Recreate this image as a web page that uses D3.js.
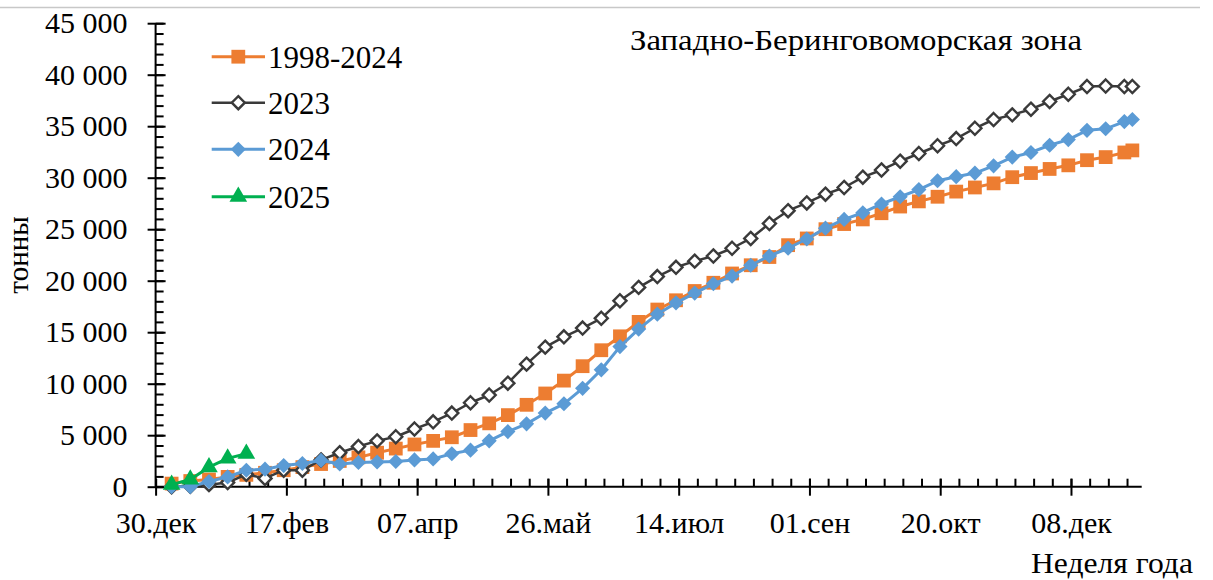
<!DOCTYPE html>
<html>
<head>
<meta charset="utf-8">
<script src="https://cdn.jsdelivr.net/npm/d3@7"></script>
<style>
	body{margin:0;background:#fff;}
	svg text{font-family:"Liberation Serif","DejaVu Serif",serif !important;}
</style>
</head>
<body>
<div id="wrap"></div>
<script>
//chart data, one value per week (last point = end of year)
var seriesNames = ["1998-2024", "2023", "2024", "2025"];
var tickLabels = ["30.дек", "17.фев", "07.апр", "26.май", "14.июл", "01.сен", "20.окт", "08.дек"];
var tickDays = [0, 49, 98, 147, 196, 245, 294, 343];
var pointDays = [6, 13, 20, 27, 34, 41, 48, 55, 62, 69, 76, 83, 90, 97, 104, 111, 118, 125, 132, 139,
	146, 153, 160, 167, 174, 181, 188, 195, 202, 209, 216, 223, 230, 237, 244, 251, 258, 265, 272, 279,
	286, 293, 300, 307, 314, 321, 328, 335, 342, 349, 356, 363, 366];

var avg9824 = [300, 550, 700, 950, 1150, 1350, 1600, 1900, 2200, 2500, 2850, 3300, 3700, 4100, 4450, 4800,
	5500, 6150, 6950, 7950, 9050, 10300, 11700, 13250, 14600, 16000, 17200, 18100, 19000, 19800, 20700,
	21500, 22300, 23450, 24100, 25000, 25500, 25950, 26550, 27200, 27700, 28150, 28650, 29050, 29450,
	30050, 30450, 30850, 31200, 31700, 32000, 32450, 32650];
var y2023 = [0, 50, 200, 400, 1200, 800, 1600, 1600, 2600, 3300, 3900, 4450, 4850, 5600, 6300, 7150,
	8150, 8900, 10050, 11900, 13550, 14550, 15400, 16350, 18050, 19350, 20400, 21300, 21900, 22400, 23150,
	24100, 25550, 26800, 27550, 28400, 29050, 30050, 30750, 31600, 32350, 33100, 33800, 34800, 35650,
	36100, 36650, 37400, 38100, 38850, 38900, 38850, 38850];
var y2024 = [0, 0, 500, 950, 1600, 1700, 2050, 2250, 2550, 2200, 2350, 2400, 2450, 2600, 2700, 3200,
	3550, 4450, 5350, 6100, 7150, 8050, 9550, 11350, 13600, 15300, 16750, 17850, 18800, 19700, 20450,
	21500, 22400, 23150, 24050, 25100, 25950, 26600, 27450, 28150, 28850, 29700, 30100, 30450, 31150,
	32000, 32450, 33150, 33700, 34600, 34750, 35450, 35650];
var y2025 = [200, 700, 1900, 2750, 3200];

(function(){

	var W = 1213, H = 580;
	var dom = {};

	dom.svg = d3.select("#wrap").append("svg").attr("width", W).attr("height", H);

	//frame line at the top
	dom.svg.append("line").attr("x1", 0).attr("x2", 1200).attr("y1", 7.5).attr("y2", 7.5)
		.attr("stroke", "#c8c8c8").attr("stroke-width", 1.5);

	var x = d3.scaleLinear().domain([0, 369.5]).range([155.6, 1141.7]);
	var y = d3.scaleLinear().domain([0, 45000]).range([486.7, 23.2]);

	var ru = d3.formatLocale({decimal: ",", thousands: "\u00a0", grouping: [3], currency: ["", ""]});
	var fmt = ru.format(",d");

	//y axis: minor ticks inward, major ticks crossing
	var minorY = d3.range(0, 45001, 1000);
	dom.svg.append("g").attr("transform", "translate(" + x(0) + ",0)")
		.call(d3.axisRight(y).tickValues(minorY).tickSize(8).tickFormat(""))
		.call(function(g){ g.select(".domain").remove(); });

	var gy = dom.svg.append("g").attr("transform", "translate(" + x(0) + ",0)")
		.call(d3.axisLeft(y).tickValues(d3.range(0, 45001, 5000)).tickSize(8).tickPadding(20).tickFormat(fmt));
	gy.attr("font-family", null);
	gy.select(".domain").attr("d", "M0," + y(45000) + "V" + y(0));
	gy.selectAll(".tick line").attr("x1", 10);
	gy.selectAll(".tick text").attr("font-size", 30).attr("fill", "#000");

	//x axis: minor weekly ticks upward, major ticks crossing
	var minorX = d3.range(0, 365, 7);
	dom.svg.append("g").attr("transform", "translate(0," + y(0) + ")")
		.call(d3.axisTop(x).tickValues(minorX).tickSize(8).tickFormat(""))
		.call(function(g){ g.select(".domain").remove(); });

	var gx = dom.svg.append("g").attr("transform", "translate(0," + y(0) + ")")
		.call(d3.axisBottom(x).tickValues(tickDays).tickSize(9).tickPadding(16)
			.tickFormat(function(d, i){ return tickLabels[i]; }));
	gx.attr("font-family", null);
	gx.select(".domain").attr("d", "M" + x(0) + ",0H" + x(369.5));
	gx.selectAll(".tick line").attr("y1", -8);
	gx.selectAll(".tick text").attr("font-size", 30).attr("fill", "#000");

	dom.svg.selectAll(".domain, .tick line").attr("stroke", "#000").attr("stroke-width", 2);

	//axis titles
	dom.svg.append("text").attr("transform", "translate(28,255) rotate(-90)")
		.attr("text-anchor", "middle").attr("font-size", 29).text("тонны");
	dom.svg.append("text").attr("x", 1193).attr("y", 573)
		.attr("text-anchor", "end").attr("font-size", 30)
		.attr("textLength", 162).attr("lengthAdjust", "spacingAndGlyphs").text("Неделя года");
	dom.svg.append("text").attr("x", 630).attr("y", 50)
		.attr("font-size", 30).attr("textLength", 452).attr("lengthAdjust", "spacingAndGlyphs")
		.text("Западно-Беринговоморская зона");

	//diamond = square turned by 45 degrees, like the spreadsheet marker
	var diamond = {draw: function(ctx, size){
		var r = Math.sqrt(size / 2);
		ctx.moveTo(0, -r); ctx.lineTo(r, 0); ctx.lineTo(0, r); ctx.lineTo(-r, 0); ctx.closePath();
	}};

	//series definitions
	var defs = [
		{name: seriesNames[0], vals: avg9824, color: "#ED7D31", lw: 3, shape: d3.symbolSquare, size: 190, fill: "#ED7D31", stroke: "none"},
		{name: seriesNames[1], vals: y2023, color: "#3A3A3A", lw: 2.5, shape: diamond, size: 85, fill: "#fff", stroke: "#3A3A3A"},
		{name: seriesNames[2], vals: y2024, color: "#5B9BD5", lw: 3, shape: diamond, size: 115, fill: "#5B9BD5", stroke: "none"},
		{name: seriesNames[3], vals: y2025, color: "#00B050", lw: 3, shape: d3.symbolTriangle, size: 135, fill: "#00B050", stroke: "none"}
	];

	var line = d3.line()
		.x(function(d){ return x(d[0]); })
		.y(function(d){ return y(d[1]); });

	defs.forEach(function(s){
		var pts = s.vals.map(function(v, i){ return [pointDays[i], v]; });
		var g = dom.svg.append("g");
		g.append("path").datum(pts).attr("d", line)
			.attr("fill", "none").attr("stroke", s.color).attr("stroke-width", s.lw)
			.attr("stroke-linejoin", "round");
		g.selectAll("path.m").data(pts).enter().append("path").attr("class", "m")
			.attr("transform", function(d){ return "translate(" + x(d[0]) + "," + y(d[1]) + ")"; })
			.attr("d", d3.symbol().type(s.shape).size(s.size))
			.attr("fill", s.fill).attr("stroke", s.stroke).attr("stroke-width", 2.4);
	});

	//legend
	var legY = [56.7, 102.7, 149.3, 196.7];
	var leg = dom.svg.append("g");
	defs.forEach(function(s, i){
		var r = leg.append("g").attr("transform", "translate(0," + legY[i] + ")");
		r.append("line").attr("x1", 211.7).attr("x2", 265).attr("stroke", s.color).attr("stroke-width", s.lw);
		r.append("path").attr("transform", "translate(238.3,0)")
			.attr("d", d3.symbol().type(s.shape).size(s.size))
			.attr("fill", s.fill).attr("stroke", s.stroke).attr("stroke-width", 2.4);
		r.append("text").attr("x", 268).attr("dy", "0.35em").attr("font-size", 31).text(s.name);
	});

})(); //end of closure
</script>
</body>
</html>
